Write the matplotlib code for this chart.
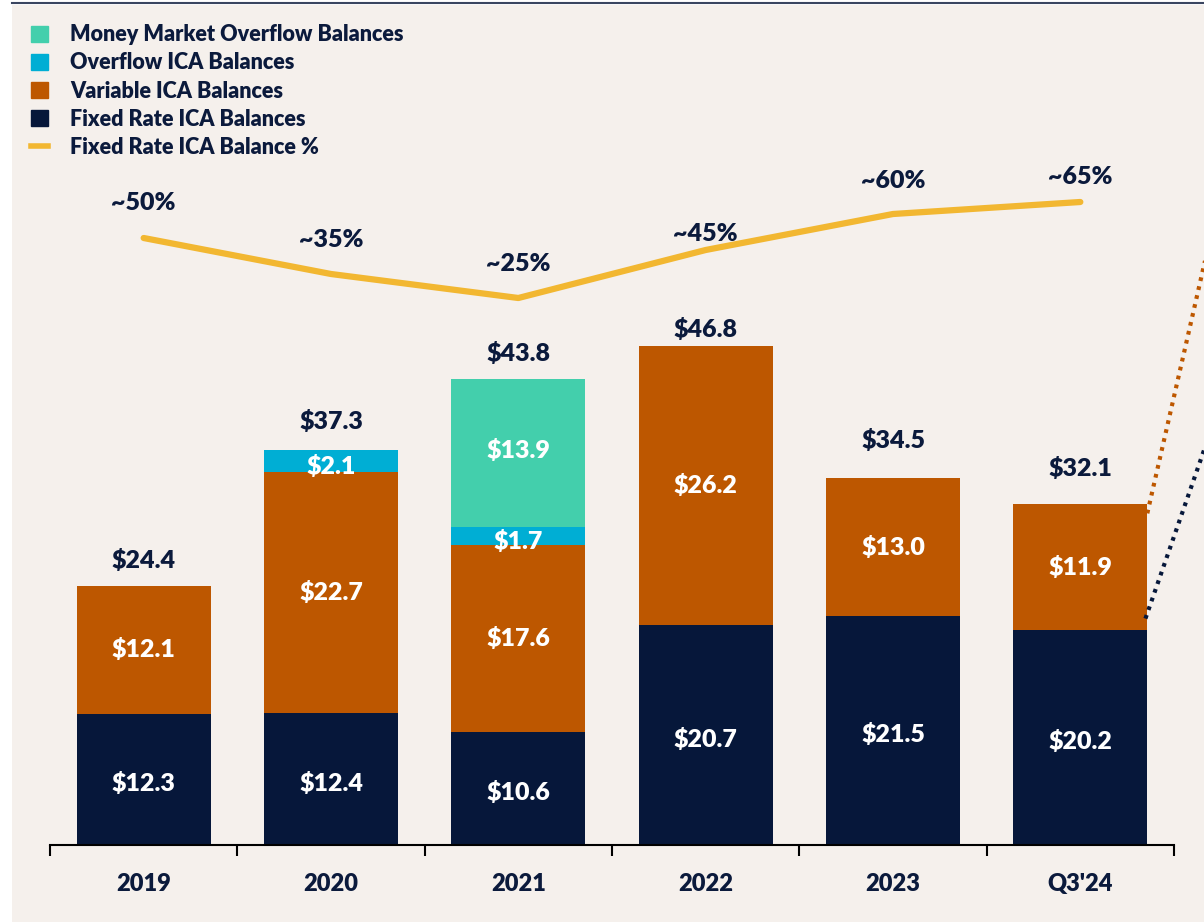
import matplotlib
matplotlib.use("Agg")
import matplotlib.pyplot as plt
from matplotlib.patches import Rectangle, Patch
from matplotlib.lines import Line2D
import numpy as np

plt.rcParams['font.family'] = ['Lato', 'DejaVu Sans']
plt.rcParams['font.weight'] = 'heavy'
WT = 'heavy'

# data
years = ["2019", "2020", "2021", "2022", "2023", "Q3'24"]
fixed = [12.3, 12.4, 10.6, 20.7, 21.5, 20.2]
variable = [12.1, 22.7, 17.6, 26.2, 13.0, 11.9]
overflow = [0, 2.1, 1.7, 0, 0, 0]
money_mkt = [0, 0, 13.9, 0, 0, 0]
totals = [24.4, 37.3, 43.8, 46.8, 34.5, 32.1]
fixed_pct = [50, 35, 25, 45, 60, 65]
pct_labels = ["~50%", "~35%", "~25%", "~45%", "~60%", "~65%"]

NAVY = "#06173A"
ORANGE = "#BD5700"
CYAN = "#00AED4"
TEAL = "#43CFAC"
GOLD = "#F2B731"
BG = "#F5F0EC"
TXT = "#0B1A3C"

W, H = 1204, 922
fig = plt.figure(figsize=(W / 100, H / 100), dpi=100)
fig.patch.set_facecolor("white")
fig.patches.append(Rectangle((12 / W, 0), 1 - 12 / W, 1 - 5 / H, transform=fig.transFigure,
                             facecolor=BG, edgecolor="none", zorder=-10))
fig.add_artist(Line2D([12 / W, 1], [1 - 3 / H, 1 - 3 / H], color="#3A4560", lw=1.5))

px_per_unit = 10.63
ax = fig.add_axes([50 / W, (H - 845) / H, 1124 / W, 840 / H])
ax.set_facecolor("none")
ax.set_xlim(-0.5, 5.5)
ax.set_ylim(0, 840 / px_per_unit)

x = np.arange(len(years))
bw = 0.715
ax.bar(x, fixed, bw, color=NAVY)
ax.bar(x, variable, bw, bottom=fixed, color=ORANGE)
bot2 = np.add(fixed, variable)
ax.bar(x, overflow, bw, bottom=bot2, color=CYAN)
bot3 = bot2 + np.array(overflow)
ax.bar(x, money_mkt, bw, bottom=bot3, color=TEAL)

lab_kw = dict(ha="center", va="center", color="white", fontsize=18, fontweight=WT)
for i in range(len(years)):
    ax.text(x[i], fixed[i] / 2 - 0.4, f"${fixed[i]:.1f}", **lab_kw)
    ax.text(x[i], fixed[i] + variable[i] / 2, f"${variable[i]:.1f}", **lab_kw)
    if overflow[i]:
        ax.text(x[i], bot2[i] + overflow[i] / 2 - 0.5, f"${overflow[i]:.1f}", **lab_kw)
    if money_mkt[i]:
        ax.text(x[i], bot3[i] + money_mkt[i] / 2 + 0.3, f"${money_mkt[i]:.1f}", **lab_kw)

tot_off = [25, 27, 26, 18, 38, 35]
for i in range(len(years)):
    ax.annotate(f"${totals[i]:.1f}", (x[i], totals[i]), xytext=(0, tot_off[i] * 0.72),
                textcoords="offset points", ha="center", va="center",
                color=TXT, fontsize=18, fontweight=WT)

# connectors going off to the right
r = x[-1] + bw / 2
ax.plot([r, r + 0.45], [totals[-1] - 0.9, totals[-1] + 33.8], ls=(0, (0.9, 1.3)),
        color=ORANGE, lw=3, clip_on=False)
ax.plot([r - 0.01, r + 0.45], [fixed[-1] + 1.1, fixed[-1] + 24.4], ls=(0, (0.9, 1.3)),
        color=NAVY, lw=3, clip_on=False)

# percentage line on a twin axis
ax2 = ax.twinx()
ax2.set_ylim((358 - 845) / 2.4, (358 - 5) / 2.4)
ax2.plot(x, fixed_pct, color=GOLD, lw=4.5, solid_capstyle="round")
pct_off = [35, 34, 34, 16, 33, 25]
for i in range(len(years)):
    ax2.annotate(pct_labels[i], (x[i], fixed_pct[i]), xytext=(0, pct_off[i] * 0.72),
                 textcoords="offset points", ha="center", va="center",
                 color=TXT, fontsize=18, fontweight=WT)
ax2.axis("off")

# axis styling
for s in ["top", "right", "left"]:
    ax.spines[s].set_visible(False)
ax.spines["bottom"].set_linewidth(1.5)
ax.spines["bottom"].set_color("black")
ax.set_yticks([])
ax.set_xticks(x)
ax.set_xticklabels(years, fontsize=17, fontweight=WT, color=TXT)
ax.tick_params(axis="x", which="major", length=0, pad=20)
ax.set_xticks(np.arange(-0.5, 6, 1), minor=True)
ax.tick_params(axis="x", which="minor", length=8, width=1.5, color="black")

handles = [Patch(color=TEAL), Patch(color=CYAN), Patch(color=ORANGE), Patch(color=NAVY),
           Line2D([0], [0], color=GOLD, lw=4)]
labels = ["Money Market Overflow Balances", "Overflow ICA Balances", "Variable ICA Balances",
          "Fixed Rate ICA Balances", "Fixed Rate ICA Balance %"]
leg = fig.legend(handles, labels, loc="upper left", bbox_to_anchor=(12 / W, 1 - 5 / H),
                 frameon=False, fontsize=15.5, handlelength=0.75, handleheight=0.75,
                 handletextpad=1.05, labelspacing=0.33, labelcolor=TXT)
for t in leg.get_texts():
    t.set_fontweight(WT)

fig.savefig("out.png", dpi=100, facecolor=fig.get_facecolor())
